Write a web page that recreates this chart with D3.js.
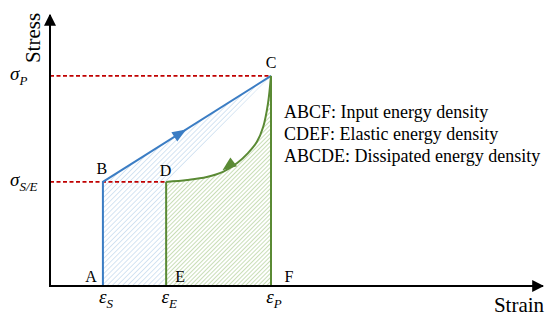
<!DOCTYPE html>
<html>
<head>
<meta charset="utf-8">
<script src="https://cdn.jsdelivr.net/npm/d3@7"></script>
<style>
  body { margin: 0; background: #fff; }
</style>
</head>
<body>
<div id="chart"></div>
<script>
// key points of the loading / unloading path (strain, stress)
const pointNames = ["A", "B", "C", "D", "E", "F"];
const pointStrain = [1.08, 1.08, 4.51, 2.37, 2.37, 4.51];
const pointStress = [0, 3.87, 7.81, 3.87, 0, 0];

// unloading curve D -> C
const curveStrain = [2.37, 2.80, 3.20, 3.53, 3.82, 4.04, 4.22, 4.35, 4.45, 4.51];
const curveStress = [3.87, 3.94, 4.05, 4.24, 4.57, 4.94, 5.35, 5.91, 6.80, 7.81];

const strainTickVals = [1.08, 2.37, 4.51];
const strainTickSubs = ["S", "E", "P"];
const stressTickVals = [7.81, 3.87];
const stressTickSubs = ["P", "S/E"];

const legendLines = [
  "ABCF: Input energy density",
  "CDEF: Elastic energy density",
  "ABCDE: Dissipated energy density"
];

const width = 550, height = 321;
const blue = "#3b7dc4", green = "#5a8a34", red = "#c00000";
const serif = "Liberation Serif";

const x = d3.scaleLinear().domain([0, 10]).range([50, 540]);
const y = d3.scaleLinear().domain([0, 10]).range([286, 17]);

const svg = d3.select("#chart").append("svg")
  .attr("width", width)
  .attr("height", height);

const defs = svg.append("defs");
function hatch(id, color, gap, sw) {
  defs.append("pattern")
    .attr("id", id)
    .attr("patternUnits", "userSpaceOnUse")
    .attr("width", gap).attr("height", gap)
    .attr("patternTransform", "rotate(45)")
    .append("line")
    .attr("x1", 0).attr("y1", 0).attr("x2", 0).attr("y2", gap)
    .attr("stroke", color).attr("stroke-width", sw);
}
hatch("hBlue", "#a9c8e6", 3.6, 1);
hatch("hGreen", "#9cc27a", 3, 1.1);

const P = {};
pointNames.forEach((n, i) => P[n] = [pointStrain[i], pointStress[i]]);
const curve = curveStrain.map((s, i) => [s, curveStress[i]]);

const line = d3.line().x(d => x(d[0])).y(d => y(d[1]));
const smooth = d3.line().x(d => x(d[0])).y(d => y(d[1])).curve(d3.curveCatmullRom.alpha(0.5));

// areas
const curvePath = smooth(curve); // D -> C
const toXY = p => x(p[0]) + "," + y(p[1]);
svg.append("path")
  .attr("d", "M" + toXY(P.E) + "L" + toXY(P.A) + "L" + toXY(P.B) + "L" + toXY(P.C) + "L" + toXY(P.D) + "Z")
  .attr("fill", "url(#hBlue)");
// cover the part under the curve with green
svg.append("path")
  .attr("d", curvePath + "L" + toXY(P.F) + "L" + toXY(P.E) + "Z")
  .attr("fill", "#fff");
svg.append("path")
  .attr("d", curvePath + "L" + toXY(P.F) + "L" + toXY(P.E) + "Z")
  .attr("fill", "url(#hGreen)");

// reference dashed lines
stressTickVals.forEach((v, i) => {
  const xe = i === 0 ? P.C[0] : P.D[0];
  svg.append("line")
    .attr("x1", x(0)).attr("x2", x(xe))
    .attr("y1", y(v)).attr("y2", y(v))
    .attr("stroke", red).attr("stroke-width", 1.6)
    .attr("stroke-dasharray", "4,2.5");
});

// blue loading path
svg.append("path").attr("d", line([P.A, P.B, P.C]))
  .attr("fill", "none").attr("stroke", blue).attr("stroke-width", 2);
// green unloading path
svg.append("path").attr("d", line([P.E, P.D]))
  .attr("fill", "none").attr("stroke", green).attr("stroke-width", 2);
svg.append("path").attr("d", curvePath)
  .attr("fill", "none").attr("stroke", green).attr("stroke-width", 2);
svg.append("path").attr("d", line([P.C, P.F]))
  .attr("fill", "none").attr("stroke", green).attr("stroke-width", 2);

// direction arrows
function arrowHead(px, py, ang, color) {
  svg.append("path")
    .attr("d", "M7,0L-7,-5.5L-7,5.5Z")
    .attr("transform", `translate(${px},${py}) rotate(${ang})`)
    .attr("fill", color);
}
const bcAng = Math.atan2(y(P.C[1]) - y(P.B[1]), x(P.C[0]) - x(P.B[0])) * 180 / Math.PI;
const tB = 0.46;
arrowHead(x(P.B[0]) + tB * (x(P.C[0]) - x(P.B[0])), y(P.B[1]) + tB * (y(P.C[1]) - y(P.B[1])), bcAng, blue);
const gA = Math.atan2(y(curve[3][1]) - y(curve[5][1]), x(curve[3][0]) - x(curve[5][0])) * 180 / Math.PI;
arrowHead((x(curve[3][0]) + x(curve[4][0])) / 2 - 2, (y(curve[3][1]) + y(curve[4][1])) / 2 - 1.5, gA, green);

// axes with arrows
defs.append("marker").attr("id", "axArrow")
  .attr("viewBox", "0 0 10 10").attr("refX", 9).attr("refY", 5)
  .attr("markerWidth", 6).attr("markerHeight", 6).attr("orient", "auto")
  .append("path").attr("d", "M0,0L10,5L0,10Z").attr("fill", "#000");
svg.append("line")
  .attr("x1", x(0)).attr("y1", y(0) + 1).attr("x2", x(0)).attr("y2", 15)
  .attr("stroke", "#000").attr("stroke-width", 2).attr("marker-end", "url(#axArrow)");
svg.append("line")
  .attr("x1", x(0) - 1).attr("y1", y(0)).attr("x2", 543).attr("y2", y(0))
  .attr("stroke", "#000").attr("stroke-width", 2).attr("marker-end", "url(#axArrow)");

svg.append("text")
  .attr("transform", `translate(40,38) rotate(-90)`)
  .attr("text-anchor", "middle").attr("font-size", 21)
  .attr("font-family", serif)
  .text("Stress");
svg.append("text")
  .attr("x", 519).attr("y", 312)
  .attr("text-anchor", "middle").attr("font-size", 21)
  .attr("font-family", serif)
  .text("Strain");

// tick labels with subscripts
function subLabel(px, py, main, sub, anchor) {
  const t = svg.append("text")
    .attr("x", px).attr("y", py)
    .attr("text-anchor", anchor)
    .attr("font-family", serif)
    .attr("font-size", 19).attr("font-style", "italic");
  t.append("tspan").text(main);
  t.append("tspan").attr("font-size", 13).attr("dy", 5).text(sub);
}
stressTickVals.forEach((v, i) => subLabel(10, y(v) + 4, "σ", stressTickSubs[i], "start"));
strainTickVals.forEach((v, i) => subLabel(x(v) + 3, 303, "ε", strainTickSubs[i], "middle"));

// point letters
const letterOffset = {A: [-12, -4], B: [-1, -8], C: [0, -8], D: [-0.5, -6], E: [14, -4], F: [18, -4]};
pointNames.forEach((n, i) => {
  svg.append("text")
    .attr("x", x(pointStrain[i]) + letterOffset[n][0])
    .attr("y", y(pointStress[i]) + letterOffset[n][1])
    .attr("text-anchor", "middle").attr("font-size", 16)
    .attr("font-family", serif)
    .text(n);
});

// legend text
svg.append("g").selectAll("text")
  .data(legendLines)
  .join("text")
  .attr("x", 284)
  .attr("y", (d, i) => 118 + i * 22)
  .attr("font-size", 18)
  .attr("font-family", serif)
  .text(d => d);
</script>
</body>
</html>
